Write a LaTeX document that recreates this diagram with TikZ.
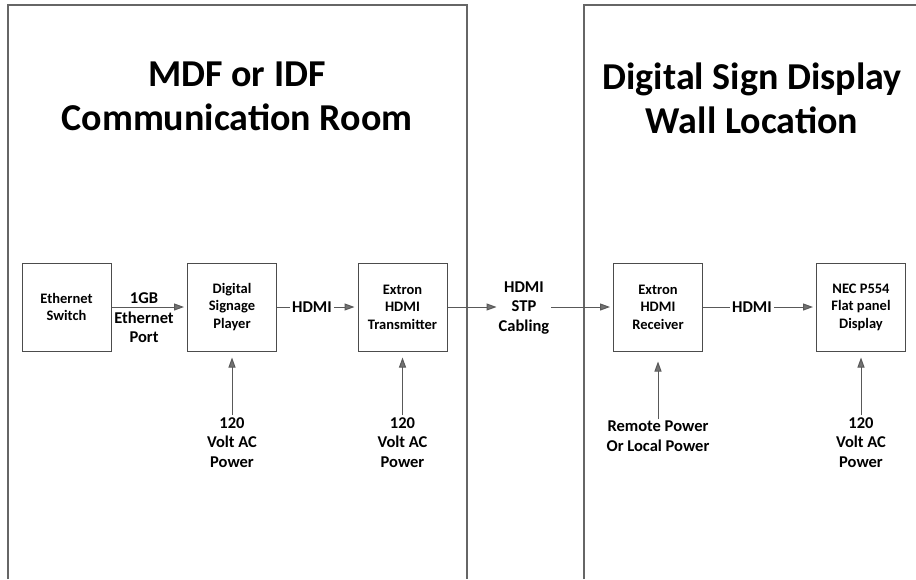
\documentclass[tikz,border=0pt]{standalone}
\usepackage{fontspec}
\setmainfont{Carlito}
\usetikzlibrary{arrows.meta}

\tikzset{
  unit/.style={draw=black!70, line width=1pt, minimum width=89pt, minimum height=88pt,
    align=center, font=\fontsize{14.5}{17.5}\selectfont\bfseries},
  lbl/.style={align=center, inner sep=2pt, font=\fontsize{16.5}{19.5}\selectfont\bfseries},
  title/.style={align=center, font=\fontsize{38}{44}\selectfont\bfseries},
  wire/.style={draw=black!65, line width=1pt},
  feed/.style={wire, -{Triangle[length=10pt,width=7pt,fill=black!55]}, shorten >=3pt},
  room/.style={draw=black!60, line width=1.2pt}
}

\begin{document}
\begin{tikzpicture}[x=1pt,y=-1pt]
			\useasboundingbox (0,0) rectangle (916,579);
			
			% rooms
			\draw[room] (8,579) -- (8,5) -- (467,5) -- (467,579);
			\draw[room] (584,579) -- (584,5) -- (920,5);
			
			\node[title] (roomA) at (237,96) {MDF or IDF\\Communication Room};
			\node[title] (roomB) at (752,98) {Digital Sign Display\\Wall Location};
			
			% equipment
			\node[unit] (switch) at (66.5,307) {Ethernet\\Switch};
			\node[unit] (player) at (232,307) {Digital\\Signage\\Player};
			\node[unit] (tx) at (402.5,307) {Extron\\HDMI\\Transmitter};
			\node[unit] (rx) at (658,307) {Extron\\HDMI\\Receiver};
			\node[unit] (nec) at (861,307) {NEC P554\\Flat panel\\Display};
			
			% link labels
			\node[lbl] (port) at (144,318) {1GB\\Ethernet\\Port};
			\node[lbl] (hdmiA) at (312,307) {HDMI};
			\node[lbl] (stp) at (524,308) {HDMI\\STP\\Cabling};
			\node[lbl] (hdmiB) at (752,307) {HDMI};
			
			% power
			\node[lbl, anchor=north] (pwrA) at (232,415) {120\\Volt AC\\Power};
			\node[lbl, anchor=north] (pwrB) at (402.5,415) {120\\Volt AC\\Power};
			\node[lbl, anchor=north] (pwrC) at (658,419) {Remote Power\\Or Local Power};
			\node[lbl, anchor=north] (pwrD) at (861,415) {120\\Volt AC\\Power};
			
			\draw[feed] (switch.east) -- (player.west);
			\draw[wire] (player.east) -- (hdmiA.west);
			\draw[feed] (hdmiA.east) -- (tx.west);
			\draw[feed, shorten >=0pt] (tx.east) -- (tx.east -| stp.west);
			\draw[feed] (stp.east |- rx.west) -- (rx.west);
			\draw[wire] (rx.east) -- (hdmiB.west);
			\draw[feed] (hdmiB.east) -- (nec.west);
			
			\draw[feed, shorten >=6pt] (pwrA.north) -- (player.south);
			\draw[feed, shorten >=6pt] (pwrB.north) -- (tx.south);
			\draw[feed, shorten >=10pt] (pwrC.north) -- (rx.south);
			\draw[feed, shorten >=6pt] (pwrD.north) -- (nec.south);
		\end{tikzpicture}
\end{document}
